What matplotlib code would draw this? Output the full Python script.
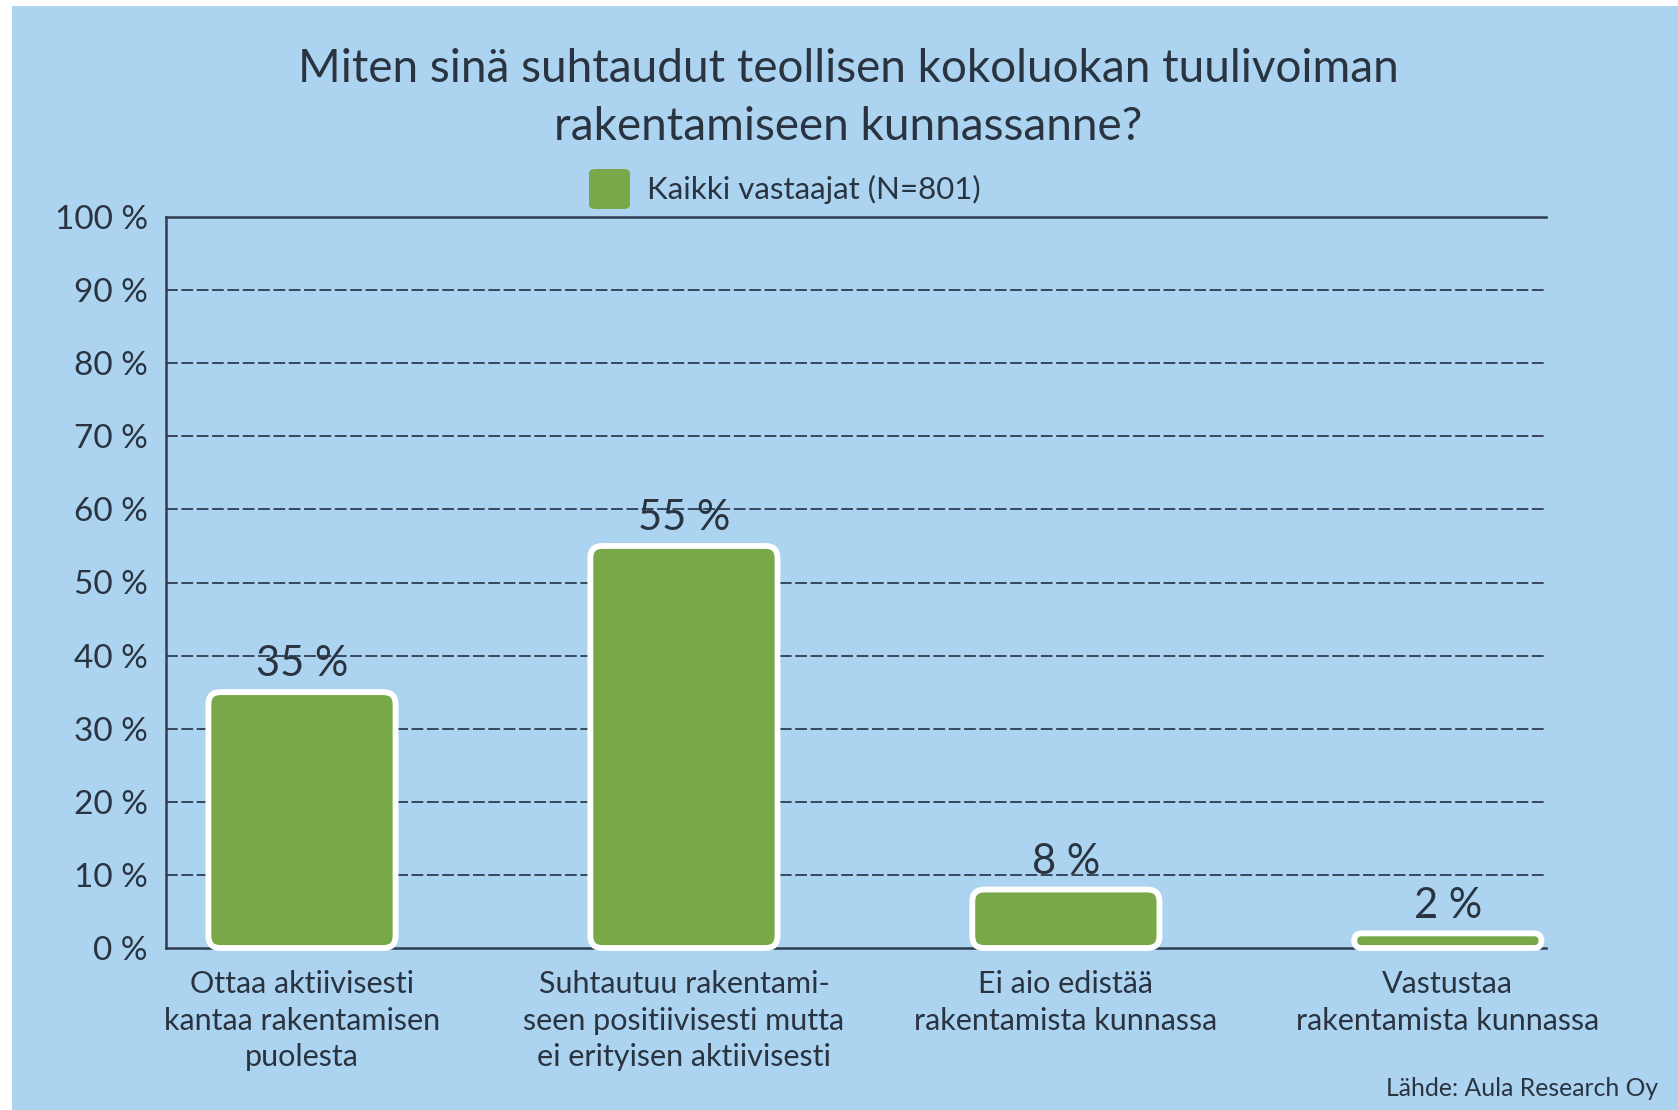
import matplotlib.pyplot as plt
from matplotlib.patches import FancyBboxPatch, Rectangle

# data
categories = [
    "Ottaa aktiivisesti\nkantaa rakentamisen\npuolesta",
    "Suhtautuu rakentami-\nseen positiivisesti mutta\nei erityisen aktiivisesti",
    "Ei aio edistää\nrakentamista kunnassa",
    "Vastustaa\nrakentamista kunnassa",
]
values = [35, 55, 8, 2]
yticks = [0, 10, 20, 30, 40, 50, 60, 70, 80, 90, 100]
ytick_labels = [f"{t} %" for t in yticks]
series_name = "Kaikki vastaajat (N=801)"
title = "Miten sinä suhtaudut teollisen kokoluokan tuulivoiman\nrakentamiseen kunnassanne?"
source = "Lähde: Aula Research Oy"

BG = "#acd4f1"
GREEN = "#78a848"
TEXT = "#2a3440"
GRID = "#2e3d4f"

plt.rcParams['font.family'] = ['Lato', 'DejaVu Sans']

W, H = 1678, 1110
fig = plt.figure(figsize=(W / 100, H / 100), dpi=100)
fig.patch.set_facecolor(BG)
# white margin on the left and top
fig.patches.append(Rectangle((0, 0), 12 / W, 1, transform=fig.transFigure,
                             facecolor="white", edgecolor="none"))
fig.patches.append(Rectangle((0, 1 - 6 / H), 1, 6 / H, transform=fig.transFigure,
                             facecolor="white", edgecolor="none"))

ax_l, ax_r, ax_t, ax_b = 166, 1546, 217, 948
ax = fig.add_axes([ax_l / W, 1 - ax_b / H, (ax_r - ax_l) / W, (ax_b - ax_t) / H])
ax.set_facecolor(BG)

xmin, xmax = -0.356, 3.257
ax.set_xlim(xmin, xmax)
ax.set_ylim(0, 100)

# grid
for t in yticks[1:-1]:
    ax.axhline(t, color=GRID, lw=1.3, ls=(0, (6.5, 2)), zorder=1)

ax.spines["right"].set_visible(False)
for s in ["left", "top", "bottom"]:
    ax.spines[s].set_color(GRID)
    ax.spines[s].set_linewidth(1.8)

ax.set_yticks(yticks)
ax.set_yticklabels(ytick_labels, fontsize=24, color=TEXT)
ax.tick_params(axis="y", length=0, pad=13)
ax.set_xticks(range(len(categories)))
ax.set_xticklabels(categories, fontsize=22, color=TEXT, linespacing=1.36)
ax.tick_params(axis="x", length=0, pad=16)

# bars, drawn with rounded corners
px_x = (ax_r - ax_l) / (xmax - xmin)
px_y = (ax_b - ax_t) / 100
aspect = px_x / px_y
bars = ax.bar(range(len(values)), values, width=0.49, color="none")
for b, v in zip(bars, values):
    b.set_visible(False)
    x0, w, h = b.get_x(), b.get_width(), b.get_height()
    r = min(12 / px_x, h / aspect / 2)
    p = FancyBboxPatch((x0, 0), w, h, boxstyle=f"round,pad=0,rounding_size={r}",
                       mutation_aspect=aspect, facecolor=GREEN, edgecolor="white",
                       lw=4.2, zorder=3, clip_on=False)
    ax.add_patch(p)
    ax.annotate(f"{v} %", (x0 + w / 2, h), xytext=(0, 20), textcoords="offset points",
                ha="center", va="center", fontsize=30, color=TEXT, zorder=4)

# title, legend, source
fig.text(848 / W, 1 - 98 / H, title, ha="center", va="center", fontsize=33,
         color=TEXT, linespacing=1.45)
fig.patches.append(FancyBboxPatch((589 / W, 1 - 209 / H), 41 / W, 40 / H,
                                  boxstyle="round,pad=0,rounding_size=0.004",
                                  transform=fig.transFigure, facecolor=GREEN,
                                  edgecolor="none", zorder=2))
fig.text(647 / W, 1 - 189 / H, series_name, ha="left", va="center", fontsize=22.5, color=TEXT)
fig.text(1658 / W, 1 - 1088 / H, source, ha="right", va="center", fontsize=17.8, color=TEXT)

fig.savefig("out.png", dpi=100, facecolor=fig.get_facecolor())
